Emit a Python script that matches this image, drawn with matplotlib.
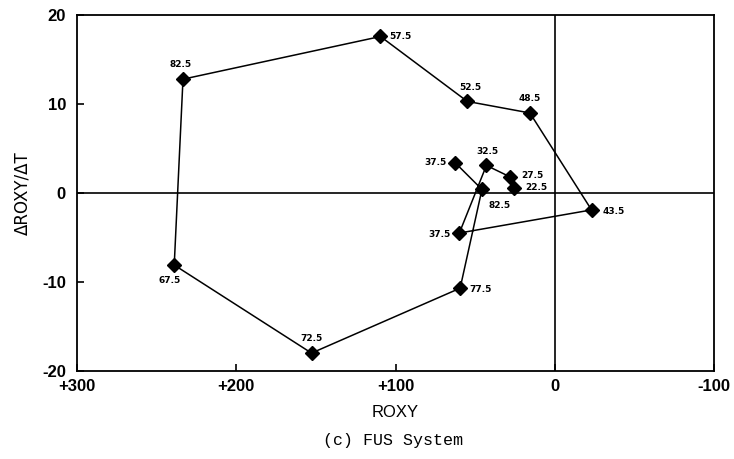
import matplotlib
matplotlib.use("Agg")
import matplotlib.pyplot as plt

plt.rcParams["axes.unicode_minus"] = False

# data (ROXY, dROXY/dT) in temperature order
labels = ["22.5", "27.5", "32.5", "37.5", "43.5", "48.5", "52.5", "57.5",
          "82.5", "67.5", "72.5", "77.5", "82.5", "37.5"]
roxy = [25.6, 28, 43, 60, -23, 15.7, 55, 109.5, 233.5, 239, 152.8, 59.5, 45.8, 62.6]
droxy = [0.6, 1.8, 3.1, -4.5, -1.9, 9.0, 10.3, 17.6, 12.8, -8.1, -18.0, -10.7, 0.4, 3.4]
# label offsets (points) and alignment
offs = [(8, 0, "left", "center"), (8, 1, "left", "center"), (1, 7, "center", "bottom"),
        (-6, -1, "right", "center"), (8, -1, "left", "center"), (0, 7, "center", "bottom"),
        (2, 7, "center", "bottom"), (6, 0, "left", "center"), (-2, 7, "center", "bottom"),
        (-3, -8, "center", "top"), (0, 7, "center", "bottom"), (7, -1, "left", "center"),
        (5, -8, "left", "top"), (-6, 0, "right", "center")]

xticks = [300, 200, 100, 0, -100]
xticklabels = ["+300", "+200", "+100", "0", "-100"]
yticks = [20, 10, 0, -10, -20]

fig = plt.figure(figsize=(7.34, 4.59), dpi=100)
ax = fig.add_axes([0.105, 0.192, 0.868, 0.775])
ax.set_xlim(300, -100)
ax.set_ylim(-20, 20)
ax.axhline(0, color="black", lw=1.2, zorder=1)
ax.axvline(0, color="black", lw=1.2, zorder=1)
ax.plot(roxy, droxy, color="black", lw=1.1, marker="D", markersize=7.5, zorder=3)
for lab, x, y, (dx, dy, ha, va) in zip(labels, roxy, droxy, offs):
    ax.annotate(lab, (x, y), xytext=(dx, dy), textcoords="offset points",
                ha=ha, va=va, fontsize=6.5, fontweight="heavy", family="DejaVu Sans")

ax.set_xticks(xticks)
ax.set_xticklabels(xticklabels)
ax.set_yticks(yticks)
ax.tick_params(direction="in", length=5, width=1.2, labelsize=12, pad=6)
ax.tick_params(axis="y", pad=8)
for lab in ax.get_xticklabels() + ax.get_yticklabels():
    lab.set_family("Liberation Sans")
    lab.set_fontweight("bold")
for s in ax.spines.values():
    s.set_linewidth(1.3)

ax.set_xlabel("ROXY", fontsize=12, family="Liberation Sans", labelpad=8)
ax.set_ylabel("ΔROXY/ΔT", fontsize=12, family="DejaVu Sans", labelpad=8)
fig.text(0.535, 0.04, "(c) FUS System", ha="center", va="center",
         fontsize=12, family="Liberation Mono")

fig.savefig("out.png", dpi=100)
